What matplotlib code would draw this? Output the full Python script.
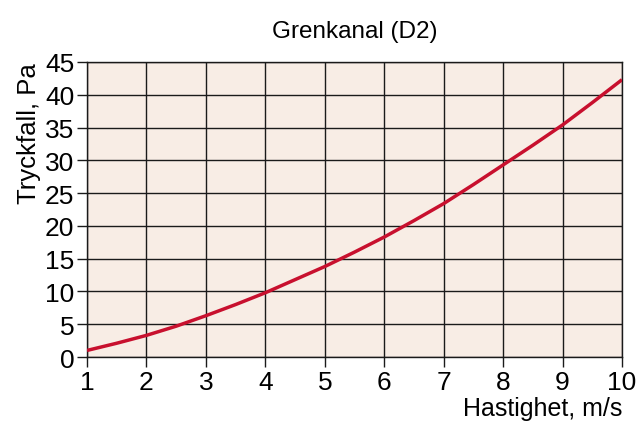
import matplotlib
matplotlib.use("Agg")
import matplotlib.pyplot as plt
import numpy as np

plt.rcParams['font.family'] = ['Liberation Sans', 'DejaVu Sans']

velocity = [1, 1.5, 2, 2.5, 3, 3.5, 4, 4.5, 5, 5.5, 6, 6.5, 7, 7.5, 8, 8.5, 9, 9.5, 10]
pressure = [1.0, 2.1, 3.3, 4.7, 6.3, 8.0, 9.8, 11.8, 13.8, 16.0, 18.3, 20.8, 23.4, 26.3, 29.3, 32.3, 35.4, 38.8, 42.3]
xticks = [1, 2, 3, 4, 5, 6, 7, 8, 9, 10]
yticks = [0, 5, 10, 15, 20, 25, 30, 35, 40, 45]

fig = plt.figure(figsize=(6.37, 4.31), dpi=100)
ax = fig.add_axes([87/637, 1-358/431, (622-87)/637, (358-63)/431])
ax.set_facecolor('#f8ede5')
ax.plot(velocity, pressure, color='#c8102e', lw=2.5, zorder=3, solid_capstyle='butt', solid_joinstyle='round')
ax.set_xlim(1, 10)
ax.set_ylim(0, 45)
ax.set_xticks(xticks)
ax.set_yticks(yticks)
ax.grid(True, color='#1a1a1a', lw=1.0, zorder=1)
ax.set_axisbelow(True)
for s in ax.spines.values():
    s.set_color('#1a1a1a')
    s.set_linewidth(1.0)
ax.tick_params(direction='out', length=7, width=1.0, color='#1a1a1a', labelsize=19, pad=2)
ax.set_title('Grenkanal (D2)', fontsize=17.5, pad=18)
ax.set_ylabel('Tryckfall, Pa', fontsize=18.5, loc='top', labelpad=3)
ax.set_xlabel('Hastighet, m/s', fontsize=18, loc='right', labelpad=2)
fig.savefig('out.png', dpi=100)
